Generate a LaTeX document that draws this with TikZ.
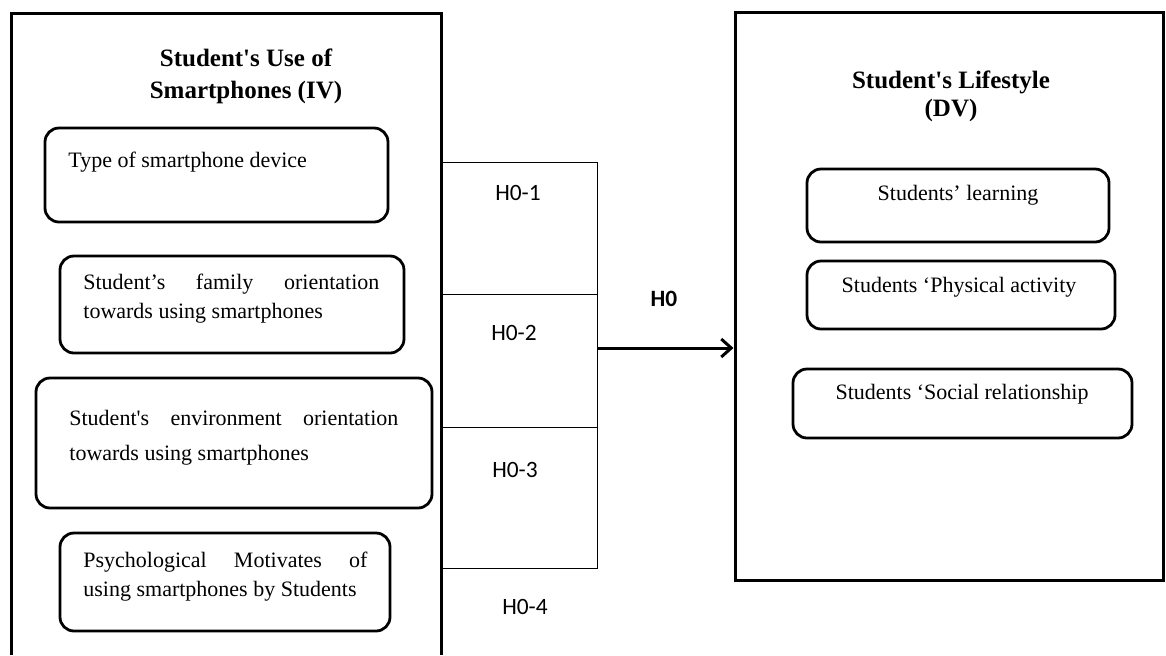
\documentclass[tikz,border=0pt]{standalone}
\usepackage{fontspec}
\setmainfont{Liberation Serif}[Ligatures=TeXOff]
\newfontfamily\hfont{Carlito}
\usetikzlibrary{arrows.meta}
\begin{document}
\begin{tikzpicture}[x=0.5pt,y=-0.5pt,
 outer/.style={line width=1.5pt},
 inbox/.style={draw,line width=1.4pt,rounded corners=7pt,inner sep=0pt},
 body/.style={font=\fontsize{11}{14.5}\selectfont,inner sep=0pt,align=left},
 ttl/.style={font=\fontsize{12.5}{16}\selectfont\bfseries,align=center,inner sep=0pt},
 hl/.style={font=\hfont\fontsize{11.7}{13}\selectfont,inner sep=0pt},
 brk/.style={line width=0.5pt}]
\useasboundingbox (0,0) rectangle (1166,655);
% left outer box (open at bottom)
\coordinate (lbl) at (11,655);
\coordinate (ltl) at (11,13);
\coordinate (ltr) at (441,13);
\coordinate (lbr) at (441,655);
\draw[outer] (lbl) -- (ltl) -- (ltr) -- (lbr);
\node[ttl] (ltitle) at (246,76) {Student's Use of\\Smartphones (IV)};
% left inner boxes
\node[inbox,minimum width=171.5pt,minimum height=47pt] (l1) at (216.5,175) {};
\node[body,anchor=west] (t1) at (68,162) {Type of smartphone device};
\node[inbox,minimum width=172pt,minimum height=48.5pt] (l2) at (232,304.5) {};
\node[body,anchor=west] (t2) at (83,299) {\makebox[148pt][s]{Student’s family orientation}\\towards using smartphones};
\node[inbox,minimum width=198pt,minimum height=65pt] (l3) at (234,443) {};
\node[body,anchor=west,font=\fontsize{11}{17.5}\selectfont] (t3) at (69,438) {\makebox[164.5pt][s]{Student's environment orientation}\\towards using smartphones};
\node[inbox,minimum width=165pt,minimum height=49pt] (l4) at (225,582) {};
\node[body,anchor=west] (t4) at (83,577) {\makebox[142pt][s]{Psychological Motivates of}\\using smartphones by Students};
% right outer box
\node[draw,outer,minimum width=214pt,minimum height=284pt,inner sep=0pt] (rbox) at (949,296) {};
\node[ttl,font=\fontsize{12.5}{14}\selectfont\bfseries] (rtitle) at (951,96) {Student's Lifestyle\\(DV)};
\node[inbox,minimum width=151pt,minimum height=36.5pt] (r1) at (958,205.5) {};
\node[body] (s1) at (958,195) {Students’ learning};
\node[inbox,minimum width=154pt,minimum height=34pt] (r2) at (961,295) {};
\node[body] (s2) at (959,287) {Students ‘Physical activity};
\node[inbox,minimum width=169.5pt,minimum height=34.5pt] (r3) at (962.5,403.5) {};
\node[body] (s3) at (962,394) {Students ‘Social relationship};
% bracket
\coordinate (a1) at (441,162); \coordinate (b1) at (597,162);
\coordinate (a2) at (441,294); \coordinate (b2) at (597,294);
\coordinate (a3) at (441,427); \coordinate (b3) at (597,427);
\coordinate (a4) at (441,568); \coordinate (b4) at (597,568);
\draw[brk] (a1) -- (b1) -- (b4) -- (a4);
\draw[brk] (a2) -- (b2);
\draw[brk] (a3) -- (b3);
\node[hl] (h1) at (518,193) {H0-1};
\node[hl] (h2) at (514,333) {H0-2};
\node[hl] (h3) at (515,470) {H0-3};
\node[hl] (h4) at (525,607) {H0-4};
\node[hl,font=\hfont\bfseries\fontsize{11.7}{13}\selectfont] (h0) at (664,299) {H0};
% arrow
\coordinate (as) at (597,348);
\draw[line width=1.5pt,-{Straight Barb[length=5pt,width=9pt]}] (as) -- (rbox.west |- as);
\end{tikzpicture}
\end{document}
